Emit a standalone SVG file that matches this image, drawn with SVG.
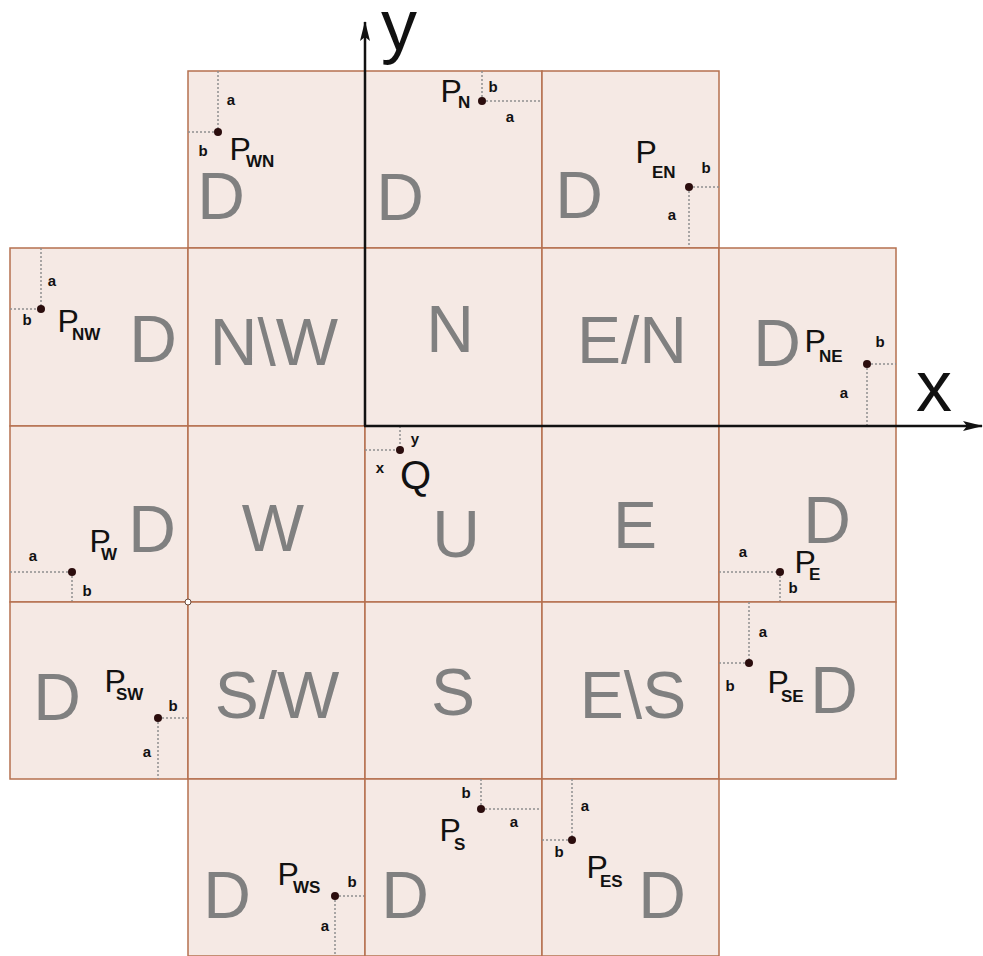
<svg xmlns="http://www.w3.org/2000/svg" width="983" height="956" viewBox="0 0 983 956">
<style>
.cell{fill:#f5e9e4;stroke:#b5704f;stroke-width:1.5}
.big{font-family:"Liberation Sans",Arial,sans-serif;font-size:66px;fill:#808080;text-anchor:middle}
.p{font-family:"Liberation Sans",Arial,sans-serif;font-size:32px;fill:#111}
.sub{font-family:"Liberation Sans",Arial,sans-serif;font-size:17px;font-weight:bold;fill:#111}
.s{font-family:"Liberation Sans",Arial,sans-serif;font-size:15px;font-weight:bold;fill:#111;text-anchor:middle}
.dot{fill:#2b0d0d}
.dl{stroke:#8f8f8f;stroke-width:1.5;stroke-dasharray:2 2;fill:none}
.ax{stroke:#111;stroke-width:2.5;fill:none}
.axl{font-family:"Liberation Sans",Arial,sans-serif;font-size:72px;fill:#111}
</style>
<defs>
<marker id="arr" markerUnits="userSpaceOnUse" viewBox="0 0 20 10" markerWidth="20" markerHeight="10" refX="19" refY="5" orient="auto">
<path d="M0,0 L20,5 L0,10 L4,5 z" fill="#111"/>
</marker>
</defs>
<rect width="983" height="956" fill="#ffffff"/>

<g id="cell-WN">
<rect class="cell" x="188" y="71" width="177" height="177"/>
<text class="big" x="221" y="219">D</text>
<line class="dl" x1="218" y1="71" x2="218" y2="132"/><line class="dl" x1="188" y1="132" x2="218" y2="132"/>
<circle class="dot" cx="218" cy="132" r="4"/>
<text class="s" x="231" y="105">a</text><text class="s" x="203" y="156">b</text>
<text class="p" x="229.5" y="160">P</text><text class="sub" x="246" y="167">WN</text>
</g>

<g id="cell-N-top">
<rect class="cell" x="365" y="71" width="177" height="177"/>
<text class="big" x="400" y="220">D</text>
<line class="dl" x1="482" y1="71" x2="482" y2="101"/><line class="dl" x1="482" y1="101" x2="542" y2="101"/>
<circle class="dot" cx="482" cy="101" r="4"/>
<text class="s" x="493" y="92">b</text><text class="s" x="510" y="122">a</text>
<text class="p" x="440.5" y="102">P</text><text class="sub" x="458" y="108">N</text>
</g>

<g id="cell-EN">
<rect class="cell" x="542" y="71" width="177" height="177"/>
<text class="big" x="579" y="218">D</text>
<line class="dl" x1="689" y1="187" x2="719" y2="187"/><line class="dl" x1="689" y1="187" x2="689" y2="248"/>
<circle class="dot" cx="689" cy="187" r="4"/>
<text class="s" x="706" y="173">b</text><text class="s" x="672" y="220">a</text>
<text class="p" x="635.5" y="163">P</text><text class="sub" x="652" y="178">EN</text>
</g>

<g id="cell-NW">
<rect class="cell" x="10" y="248" width="178" height="178"/>
<text class="big" x="153" y="362">D</text>
<line class="dl" x1="41" y1="248" x2="41" y2="309"/><line class="dl" x1="10" y1="309" x2="41" y2="309"/>
<circle class="dot" cx="41" cy="309" r="4"/>
<text class="s" x="52" y="286">a</text><text class="s" x="27" y="325">b</text>
<text class="p" x="57.5" y="332">P</text><text class="sub" x="72" y="340">NW</text>
</g>

<g id="cell-N-W">
<rect class="cell" x="188" y="248" width="177" height="178"/>
<text class="big" x="274" y="365">N\W</text>
</g>

<g id="cell-N">
<rect class="cell" x="365" y="248" width="177" height="178"/>
<text class="big" x="450" y="352">N</text>
</g>

<g id="cell-E-N">
<rect class="cell" x="542" y="248" width="177" height="178"/>
<text class="big" x="632" y="363">E/N</text>
</g>

<g id="cell-NE">
<rect class="cell" x="719" y="248" width="177" height="178"/>
<text class="big" x="777" y="366">D</text>
<line class="dl" x1="867" y1="364" x2="896" y2="364"/><line class="dl" x1="867" y1="364" x2="867" y2="426"/>
<circle class="dot" cx="867" cy="364" r="4"/>
<text class="s" x="880" y="347">b</text><text class="s" x="844" y="398">a</text>
<text class="p" x="804.5" y="352">P</text><text class="sub" x="819" y="362">NE</text>
</g>

<g id="cell-Wout">
<rect class="cell" x="10" y="426" width="178" height="176"/>
<text class="big" x="152" y="552">D</text>
<line class="dl" x1="10" y1="572" x2="72" y2="572"/><line class="dl" x1="72" y1="572" x2="72" y2="602"/>
<circle class="dot" cx="72" cy="572" r="4"/>
<text class="s" x="33" y="561">a</text><text class="s" x="87" y="596">b</text>
<text class="p" x="89.5" y="552">P</text><text class="sub" x="101" y="560">W</text>
</g>

<g id="cell-W">
<rect class="cell" x="188" y="426" width="177" height="176"/>
<text class="big" x="273" y="551">W</text>
</g>

<g id="cell-U">
<rect class="cell" x="365" y="426" width="177" height="176"/>
<text class="big" x="456" y="557">U</text>
<line class="dl" x1="400" y1="426" x2="400" y2="450"/><line class="dl" x1="365" y1="450" x2="400" y2="450"/>
<circle class="dot" cx="400" cy="450" r="4"/>
<text class="s" x="415" y="444">y</text><text class="s" x="380" y="473">x</text>
<text class="p" x="400" y="489" style="font-size:40px">Q</text>
</g>

<g id="cell-E">
<rect class="cell" x="542" y="426" width="177" height="176"/>
<text class="big" x="635" y="548">E</text>
</g>

<g id="cell-Eout">
<rect class="cell" x="719" y="426" width="177" height="176"/>
<text class="big" x="827" y="543">D</text>
<line class="dl" x1="719" y1="572" x2="780" y2="572"/><line class="dl" x1="780" y1="572" x2="780" y2="602"/>
<circle class="dot" cx="780" cy="572" r="4"/>
<text class="s" x="743" y="557">a</text><text class="s" x="793" y="593">b</text>
<text class="p" x="794.5" y="573">P</text><text class="sub" x="809" y="580">E</text>
</g>

<g id="cell-SW">
<rect class="cell" x="10" y="602" width="178" height="177"/>
<text class="big" x="57" y="720">D</text>
<line class="dl" x1="158" y1="718" x2="188" y2="718"/><line class="dl" x1="158" y1="718" x2="158" y2="779"/>
<circle class="dot" cx="158" cy="718" r="4"/>
<text class="s" x="173" y="711">b</text><text class="s" x="147" y="757">a</text>
<text class="p" x="104.5" y="692">P</text><text class="sub" x="116" y="700">SW</text>
</g>

<g id="cell-S-W">
<rect class="cell" x="188" y="602" width="177" height="177"/>
<text class="big" x="277" y="718">S/W</text>
</g>

<g id="cell-S">
<rect class="cell" x="365" y="602" width="177" height="177"/>
<text class="big" x="453" y="715">S</text>
</g>

<g id="cell-E-S">
<rect class="cell" x="542" y="602" width="177" height="177"/>
<text class="big" x="633" y="718">E\S</text>
</g>

<g id="cell-SE">
<rect class="cell" x="719" y="602" width="177" height="177"/>
<text class="big" x="834" y="713">D</text>
<line class="dl" x1="749" y1="602" x2="749" y2="663"/><line class="dl" x1="719" y1="663" x2="749" y2="663"/>
<circle class="dot" cx="749" cy="663" r="4"/>
<text class="s" x="763" y="637">a</text><text class="s" x="730" y="691">b</text>
<text class="p" x="767.5" y="693">P</text><text class="sub" x="781" y="702">SE</text>
</g>

<g id="cell-WS">
<rect class="cell" x="188" y="779" width="177" height="177"/>
<text class="big" x="227" y="918">D</text>
<line class="dl" x1="335" y1="896" x2="365" y2="896"/><line class="dl" x1="335" y1="896" x2="335" y2="956"/>
<circle class="dot" cx="335" cy="896" r="4"/>
<text class="s" x="352" y="887">b</text><text class="s" x="325" y="931">a</text>
<text class="p" x="277.5" y="885">P</text><text class="sub" x="293" y="893">WS</text>
</g>

<g id="cell-S-bottom">
<rect class="cell" x="365" y="779" width="177" height="177"/>
<text class="big" x="405" y="918">D</text>
<line class="dl" x1="481" y1="779" x2="481" y2="809"/><line class="dl" x1="481" y1="809" x2="542" y2="809"/>
<circle class="dot" cx="481" cy="809" r="4"/>
<text class="s" x="466" y="798">b</text><text class="s" x="514" y="827">a</text>
<text class="p" x="439.5" y="841">P</text><text class="sub" x="454" y="850">S</text>
</g>

<g id="cell-ES">
<rect class="cell" x="542" y="779" width="177" height="177"/>
<text class="big" x="662" y="918">D</text>
<line class="dl" x1="572" y1="779" x2="572" y2="840"/><line class="dl" x1="542" y1="840" x2="572" y2="840"/>
<circle class="dot" cx="572" cy="840" r="4"/>
<text class="s" x="585" y="811">a</text><text class="s" x="559" y="857">b</text>
<text class="p" x="586.5" y="878">P</text><text class="sub" x="600" y="887">ES</text>
</g>

<g id="marker-point">
<circle cx="188" cy="602" r="3" fill="#ffffff" stroke="#6b4a3a" stroke-width="1"/>
</g>

<g id="connectors">
<line class="ax" x1="365" y1="426" x2="365" y2="22" marker-end="url(#arr)"/>
<line class="ax" x1="364" y1="426" x2="982" y2="426" marker-end="url(#arr)"/>
<text class="axl" x="381" y="50">y</text>
<text class="axl" x="916" y="411">x</text>
</g>
</svg>
